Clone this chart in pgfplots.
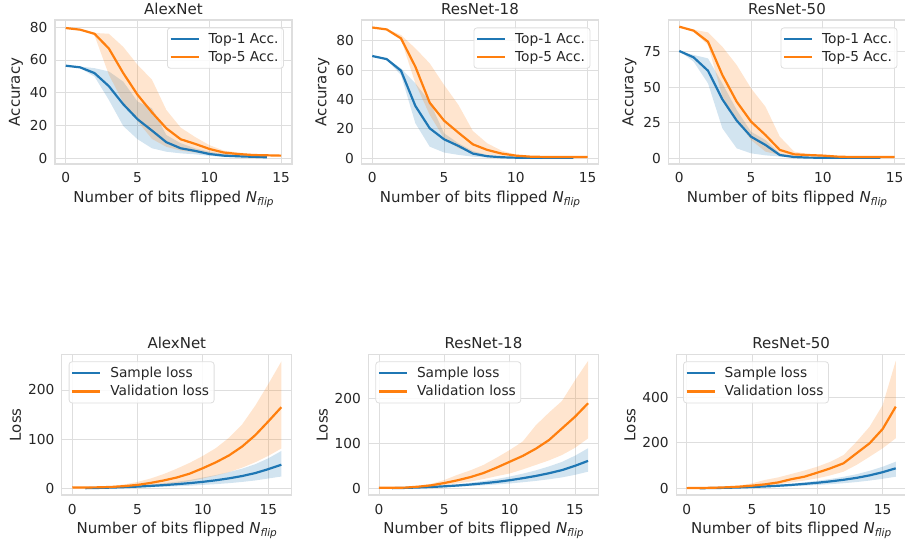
\documentclass[border=0pt]{standalone}
\usepackage{fontspec}
\setmainfont{DejaVu Sans}
\usepackage{pgfplots}
\pgfplotsset{compat=1.18}
\usepackage{pgfplotstable}
\usepgfplotslibrary{fillbetween}
\definecolor{tabblue}{HTML}{1F77B4}
\definecolor{taborange}{HTML}{FF7F0E}
\definecolor{gridc}{HTML}{DEDEDE}
\definecolor{txt}{HTML}{262626}

% ---------------- data ----------------
\pgfplotstableread{
n b blo bhi o olo ohi
0 56.5 56.5 56.5 79.5 79.5 79.5
1 55.5 55.0 56.0 78.5 78.2 78.8
2 52.0 49.9 55.0 76.0 75.0 76.5
3 44.0 35.6 53.0 67.0 51.0 76.0
4 33.0 19.7 46.8 52.0 34.0 68.0
5 23.8 11.6 34.6 38.7 22.6 57.0
6 16.9 6.1 30.5 28.0 11.8 48.0
7 9.8 4.0 14.2 18.3 7.0 29.5
8 6.1 3.0 9.2 11.6 4.7 18.7
9 4.5 2.4 6.1 8.8 3.5 13.0
10 2.6 1.5 4.0 5.7 2.5 8.0
11 1.6 0.8 2.6 3.5 2.0 4.7
12 1.2 0.6 2.0 2.6 1.6 3.5
13 0.9 0.5 1.6 2.0 1.4 2.6
14 0.6 0.4 1.2 1.8 1.3 2.3
15 nan nan nan 1.6 1.2 2.0
}\accA
\pgfplotstableread{
n b blo bhi o olo ohi
0 69.6 69.6 69.6 89.0 89.0 89.0
1 67.5 67.0 68.0 87.7 87.3 88.0
2 59.6 56.7 61.2 81.6 81.0 83.9
3 35.6 23.8 51.0 62.3 51.0 74.8
4 20.4 7.9 38.5 37.8 29.5 64.6
5 12.9 3.9 17.0 25.6 13.6 49.9
6 8.4 2.3 10.2 17.4 6.8 36.3
7 3.2 1.1 5.0 9.5 3.9 18.6
8 1.4 0.5 2.2 5.7 2.3 10.2
9 0.7 0.3 1.1 3.2 1.6 5.2
10 0.4 0.2 0.6 1.8 1.2 2.5
11 0.3 0.2 0.4 1.1 0.9 1.4
12 0.3 0.2 0.3 0.9 0.7 1.1
13 0.3 0.2 0.3 0.8 0.7 1.0
14 0.3 0.2 0.3 0.8 0.7 0.9
15 nan nan nan 0.8 0.7 0.9
}\accB
\pgfplotstableread{
n b blo bhi o olo ohi
0 75.5 75.5 75.5 92.6 92.6 92.6
1 71.0 68.0 72.7 89.8 89.0 90.5
2 61.6 52.7 70.3 82.0 79.7 88.6
3 41.5 21.1 52.7 58.6 43.4 78.5
4 26.5 7.0 34.0 39.8 27.0 65.6
5 15.2 3.5 18.7 25.8 12.9 49.2
6 9.4 2.1 12.9 16.4 4.7 36.3
7 2.3 1.2 3.5 5.9 2.3 15.2
8 0.9 0.5 1.6 2.8 1.6 4.7
9 0.5 0.3 0.8 2.3 1.5 3.0
10 0.4 0.2 0.5 1.9 1.3 2.5
11 0.3 0.2 0.4 1.2 0.9 1.6
12 0.3 0.2 0.3 0.9 0.8 1.1
13 0.3 0.2 0.3 0.9 0.8 1.0
14 0.3 0.2 0.3 0.9 0.8 1.0
15 nan nan nan 0.9 0.8 1.0
}\accC
\pgfplotstableread{
n b blo bhi o olo ohi
0 nan nan nan 1.5 1.4 1.6
1 0.3 0.15 0.5 1.7 1.4 2.0
2 0.8 0.4 1.3 2.0 1.4 2.8
3 1.5 0.75 2.4 2.8 1.6 4.5
4 2.4 1.2 3.8 4.5 2.2 8.0
5 3.5 1.75 5.6 7.0 3.3 13.0
6 4.9 2.45 7.8 11.0 5.0 20.0
7 6.5 3.25 10.4 16.0 7.5 29.0
8 8.4 4.2 13.4 22.0 10.5 40.0
9 10.6 5.3 17.0 30.0 14.5 52.0
10 13.2 7.0 22.0 41.0 20.0 66.0
11 16.4 8.5 27.0 53.0 26.0 82.0
12 20.3 10.5 33.0 67.0 33.0 103.0
13 25.0 13.0 40.0 85.0 42.0 130.0
14 31.0 16.0 49.0 108.0 53.0 168.0
15 39.0 20.0 61.0 136.0 66.0 212.0
16 48.0 24.0 76.0 165.0 81.0 258.0
}\lossA
\pgfplotstableread{
n b blo bhi o olo ohi
0 nan nan nan 1.2 1.1 1.3
1 0.4 0.24 0.58 1.2 1.0 1.5
2 1.0 0.6 1.45 1.6 1.0 2.5
3 1.9 1.14 2.76 3.7 2.2 5.5
4 3.0 1.8 4.35 6.7 4.0 10.0
5 4.5 2.7 6.5 11.8 7.0 18.5
6 6.3 3.8 9.1 17.8 11.0 30.0
7 8.5 5.1 12.3 25.0 15.0 40.0
8 11.2 6.7 16.2 34.0 20.7 52.0
9 14.3 8.6 20.7 46.0 27.0 68.0
10 18.0 10.8 26.1 59.0 33.0 85.0
11 22.5 13.5 32.6 72.0 42.0 104.0
12 27.5 16.5 39.9 88.0 52.0 140.0
13 33.5 20.1 48.6 107.0 62.0 168.0
14 40.5 24.3 58.7 133.0 74.0 194.0
15 50.0 30.0 72.5 159.0 90.0 240.0
16 61.0 37.0 89.0 189.0 111.0 283.0
}\lossB
\pgfplotstableread{
n b blo bhi o olo ohi
0 nan nan nan 1.0 0.9 1.1
1 0.5 0.3 0.68 1.5 1.2 1.8
2 1.2 0.72 1.62 2.5 1.8 3.2
3 2.3 1.38 3.1 4.4 2.8 6.5
4 3.8 2.28 5.1 7.3 4.5 12.0
5 5.8 3.5 7.8 11.7 7.0 22.0
6 8.3 5.0 11.2 17.6 12.0 37.0
7 11.3 6.8 15.3 26.0 17.0 48.0
8 15.0 9.0 20.3 40.0 26.0 63.0
9 19.5 11.7 26.3 51.0 34.0 78.0
10 24.5 14.7 33.1 69.0 44.0 95.0
11 30.5 18.3 41.2 88.0 57.0 117.0
12 37.5 22.5 50.6 110.0 73.0 146.0
13 46.0 27.6 62.1 154.0 103.0 205.0
14 57.0 34.2 77.0 198.0 139.0 271.0
15 71.0 42.0 95.0 261.0 176.0 366.0
16 88.0 51.0 117.0 359.0 220.0 560.0
}\lossC

% ---------------- styles ----------------
\pgfplotsset{
  every axis title shift=0pt,
  sb/.style={
    scale only axis,
    axis line style={gridc, line width=1.1pt},
    grid=major,
    grid style={gridc, line width=0.9pt},
    major tick length=0pt,
    /pgf/number format/assume math mode=true,
    tick label style={font=\fontsize{13.75}{16}\selectfont, text=txt},
    xticklabel style={anchor=base, yshift=-19pt},
    yticklabel style={anchor=east, xshift=-4pt},
    title style={font=\fontsize{15}{18}\selectfont, text=txt, at={(axis description cs:0.5,1)}, anchor=base, yshift=5.5pt},
    xlabel style={font=\fontsize{15}{18}\selectfont, text=txt, at={(axis description cs:0.5,0)}, anchor=base, yshift=-38.5pt},
    ylabel style={font=\fontsize{15}{18}\selectfont, text=txt},
    xlabel={Number of bits flipped \textit{N}\raisebox{-3pt}{\fontsize{10.5}{12}\selectfont\itshape flip}},
    xtick={0,5,10,15},
    legend cell align=left,
    legend image code/.code={\draw[##1, line width=2.2pt] (0pt,0pt) -- (28pt,0pt);},
    legend style={font=\fontsize{13.75}{16}\selectfont, text=txt, draw=gridc, line width=0.8pt,
      rounded corners=3pt, fill=white, fill opacity=0.85, text opacity=1,
      inner xsep=2pt, inner ysep=3pt, row sep=1.3pt, column sep=6pt,
      nodes={inner xsep=3pt, inner ysep=2.5pt}},
    every axis plot/.append style={line width=2.2pt},
  },
  toprow/.style={sb, width=237pt, height=144pt, xmin=-0.75, xmax=15.75, ylabel={Accuracy},
    legend style={at={(axis description cs:0.966,0.948)}, anchor=north east}},
  botrow/.style={sb, width=230pt, height=140.7pt, xmin=-0.8, xmax=16.8, ylabel={Loss},
    legend style={at={(axis description cs:0.03,0.95)}, anchor=north west}},
}

\newcommand\bands[2]{% #1 table, #2 id
  \addplot[draw=none, forget plot, name path=#2bu] table[x=n,y=bhi]{#1};
  \addplot[draw=none, forget plot, name path=#2bl] table[x=n,y=blo]{#1};
  \addplot[draw=none, forget plot, fill=tabblue, fill opacity=0.2] fill between[of=#2bu and #2bl];
  \addplot[draw=none, forget plot, name path=#2ou] table[x=n,y=ohi]{#1};
  \addplot[draw=none, forget plot, name path=#2ol] table[x=n,y=olo]{#1};
  \addplot[draw=none, forget plot, fill=taborange, fill opacity=0.2] fill between[of=#2ou and #2ol];
}

\begin{document}
\begin{tikzpicture}

% ---- top row ----
\begin{axis}[toprow, at={(55pt,375pt)}, anchor=south west, title={AlexNet},
  ymin=-3.5, ymax=84.4, ytick={0,20,40,60,80}]
  \bands{\accA}{a}
  \addplot[tabblue] table[x=n,y=b]{\accA};
  \addlegendentry{Top-1 Acc.}
  \addplot[taborange] table[x=n,y=o]{\accA};
  \addlegendentry{Top-5 Acc.}
\end{axis}

\begin{axis}[toprow, at={(361.5pt,375pt)}, anchor=south west, title={ResNet-18},
  ymin=-3.9, ymax=94.1, ytick={0,20,40,60,80}]
  \bands{\accB}{b}
  \addplot[tabblue] table[x=n,y=b]{\accB};
  \addlegendentry{Top-1 Acc.}
  \addplot[taborange] table[x=n,y=o]{\accB};
  \addlegendentry{Top-5 Acc.}
\end{axis}

\begin{axis}[toprow, at={(668.5pt,375pt)}, anchor=south west, title={ResNet-50},
  ymin=-4.0, ymax=97.3, ytick={0,25,50,75}]
  \bands{\accC}{c}
  \addplot[tabblue] table[x=n,y=b]{\accC};
  \addlegendentry{Top-1 Acc.}
  \addplot[taborange] table[x=n,y=o]{\accC};
  \addlegendentry{Top-5 Acc.}
\end{axis}

% ---- bottom row ----
\begin{axis}[botrow, at={(61.8pt,44pt)}, anchor=south west, title={AlexNet},
  ymin=-13.6, ymax=272.6, ytick={0,100,200}]
  \bands{\lossA}{d}
  \addplot[tabblue] table[x=n,y=b]{\lossA};
  \addlegendentry{Sample loss}
  \addplot[taborange] table[x=n,y=o]{\lossA};
  \addlegendentry{Validation loss}
\end{axis}

\begin{axis}[botrow, at={(368.5pt,44pt)}, anchor=south west, title={ResNet-18},
  ymin=-14.8, ymax=297.8, ytick={0,100,200}]
  \bands{\lossB}{e}
  \addplot[tabblue] table[x=n,y=b]{\lossB};
  \addlegendentry{Sample loss}
  \addplot[taborange] table[x=n,y=o]{\lossB};
  \addlegendentry{Validation loss}
\end{axis}

\begin{axis}[botrow, at={(676.2pt,44pt)}, anchor=south west, title={ResNet-50},
  ymin=-29.3, ymax=589, ytick={0,200,400}]
  \bands{\lossC}{f}
  \addplot[tabblue] table[x=n,y=b]{\lossC};
  \addlegendentry{Sample loss}
  \addplot[taborange] table[x=n,y=o]{\lossC};
  \addlegendentry{Validation loss}
\end{axis}

\pgfresetboundingbox
\path[use as bounding box] (0pt,0pt) rectangle (905pt,539pt);
\end{tikzpicture}
\end{document}
